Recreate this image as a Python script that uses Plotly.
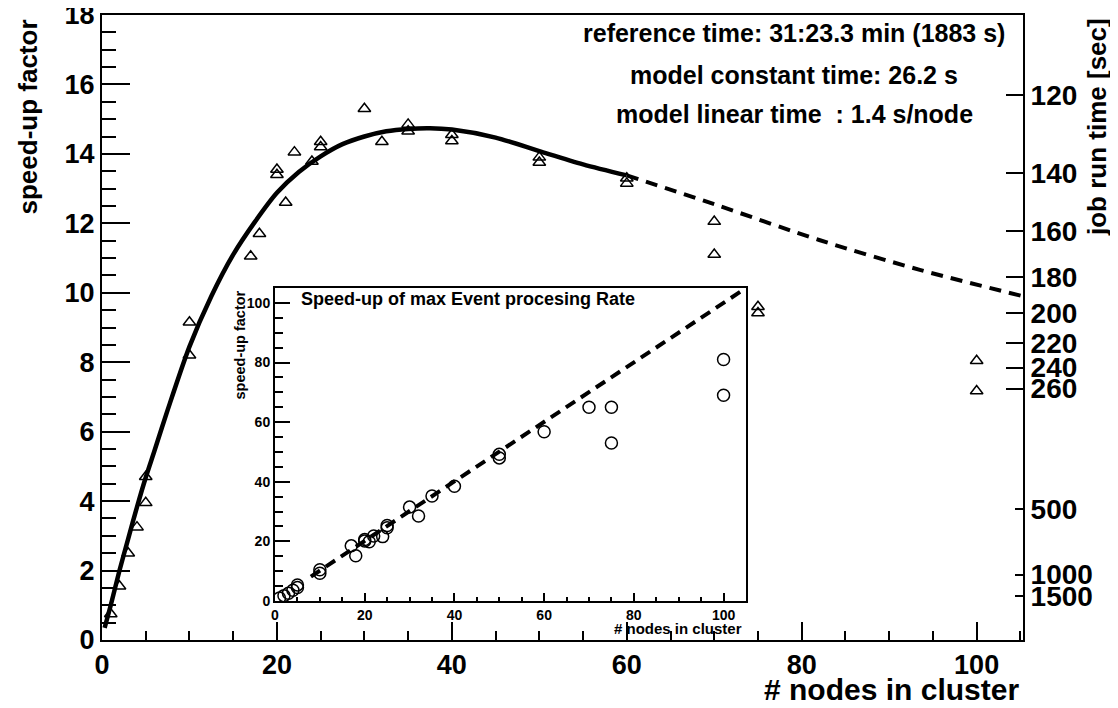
import plotly.graph_objects as go

# the page adds an 8px body margin; the figure is sized to fit inside it
OFF = 8
W, H = 1118 - OFF, 708 - OFF
FONT = "Liberation Sans, Arial, Helvetica, sans-serif"

# ---------------- data ----------------
main_nodes = [1, 2, 3, 4, 5, 5, 10, 10, 17, 18, 20, 20, 21, 22, 24, 25, 25, 30, 32,
              35, 35, 40, 40, 50, 50, 60, 60, 70, 70, 75, 75, 100, 100]
main_speedup = [0.75, 1.55, 2.5, 3.25, 3.95, 4.7, 9.15, 8.2, 11.05, 11.7, 13.4, 13.55,
                12.6, 14.05, 13.78, 14.2, 14.35, 15.3, 14.35, 14.85, 14.65, 14.55, 14.37,
                13.9, 13.75, 13.3, 13.15, 12.05, 11.1, 9.6, 9.42, 8.04, 7.17]

model_nodes = [0.3, 1, 2, 3, 4, 5, 6, 7.5, 10, 12.5, 15, 17.5, 20, 22.5, 25, 27.5,
               30, 32.5, 35, 37.5, 40, 45, 50, 55, 60]
model_speedup = [0.35, 1.0, 2.0, 2.92, 3.83, 4.68, 5.45, 6.62, 8.45, 9.9, 11.1, 12.05,
                 12.88, 13.48, 13.93, 14.28, 14.5, 14.65, 14.72, 14.74, 14.7, 14.47,
                 14.08, 13.7, 13.38]

extrap_nodes = [60, 70, 82, 93.5, 105.3]
extrap_speedup = [13.38, 12.55, 11.52, 10.66, 9.9]

ref_time = 1883
runtime_ticks_long = [120, 140, 160, 180, 200, 220, 240, 260]
runtime_ticks_short = [500, 1000, 1500]

inset_nodes = [1, 2, 3, 4, 5, 5, 10, 10, 17, 18, 20, 20, 21, 22, 24, 25, 25, 30, 32,
               35, 40, 50, 50, 60, 70, 75, 75, 100, 100]
inset_rate = [1.0, 1.8, 2.6, 3.6, 4.5, 5.4, 10.5, 9.3, 18.5, 15.2, 20.1, 20.6, 19.9,
              21.8, 21.6, 24.6, 25.3, 31.5, 28.5, 35.2, 38.5, 48.0, 49.2, 56.8, 65.0,
              65.0, 53.0, 81.0, 69.0]

inset_line_nodes = [8, 104.5]
inset_line_rate = [8.2, 104.5]

annotation_lines = ["reference time: 31:23.3 min (1883 s)",
                    "model constant time: 26.2 s",
                    "model linear time\u00a0 : 1.4 s/node"]


def px(x):
    return (x - OFF) / W


def py(y):
    return 1 - (y - OFF) / H


def bold(size):
    return dict(family=FONT, size=size, color="black", weight="bold")


fig = go.Figure()

fig.add_trace(go.Scatter(x=main_nodes, y=main_speedup, mode="markers",
                         marker=dict(symbol="triangle-up-open", size=11, color="black",
                                     line=dict(width=1.5, color="black")),
                         xaxis="x", yaxis="y", hoverinfo="skip"))
fig.add_trace(go.Scatter(x=model_nodes, y=model_speedup, mode="lines",
                         line=dict(color="black", width=4.5, shape="spline", smoothing=0.8),
                         xaxis="x", yaxis="y", hoverinfo="skip"))
fig.add_trace(go.Scatter(x=extrap_nodes, y=extrap_speedup, mode="lines",
                         line=dict(color="black", width=4, shape="spline", smoothing=0.8,
                                   dash="12px,8px"),
                         xaxis="x", yaxis="y", hoverinfo="skip"))
# invisible helpers so the right-hand axes render
fig.add_trace(go.Scatter(x=[50], y=[5], mode="markers", marker=dict(opacity=0),
                         xaxis="x", yaxis="y2", hoverinfo="skip"))
fig.add_trace(go.Scatter(x=[50], y=[5], mode="markers", marker=dict(opacity=0),
                         xaxis="x", yaxis="y3", hoverinfo="skip"))

# inset
fig.add_trace(go.Scatter(x=inset_line_nodes, y=inset_line_rate, mode="lines",
                         line=dict(color="black", width=4, dash="11px,7px"),
                         xaxis="x2", yaxis="y4", hoverinfo="skip"))
fig.add_trace(go.Scatter(x=inset_nodes, y=inset_rate, mode="markers",
                         marker=dict(symbol="circle-open", size=12, color="black",
                                     line=dict(width=1.5, color="black")),
                         xaxis="x2", yaxis="y4", hoverinfo="skip"))

common = dict(showgrid=False, zeroline=False, showline=True, linecolor="black",
              tickcolor="black", fixedrange=True, automargin=False,
              ticklabeloverflow="allow")

fig.update_layout(
    template="none",
    width=W, height=H, margin=dict(l=0, r=0, t=0, b=0, pad=0, autoexpand=False),
    paper_bgcolor="white", plot_bgcolor="white", showlegend=False,
    xaxis=dict(domain=[px(102), px(1023)], range=[0, 105.3], anchor="y",
               linewidth=2, mirror=True, ticks="inside", ticklen=18, tickwidth=2,
               tick0=0, dtick=20, tickfont=bold(27),
               minor=dict(dtick=5, tick0=0, ticklen=9, tickwidth=2, ticks="inside",
                          tickcolor="black"),
               **common),
    yaxis=dict(domain=[py(640), py(15)], range=[0, 18], anchor="x",
               linewidth=2, mirror=True, ticks="inside", ticklen=28, tickwidth=2,
               tick0=0, dtick=2, tickfont=bold(27),
               minor=dict(dtick=0.5, tick0=0, ticklen=14, tickwidth=2, ticks="inside",
                          tickcolor="black"),
               **common),
    yaxis2=dict(overlaying="y", side="right", anchor="x", range=[0, 18],
                tickmode="array",
                tickvals=[ref_time / t for t in runtime_ticks_long],
                ticktext=[str(t) for t in runtime_ticks_long],
                ticks="inside", ticklen=17, tickwidth=2, linewidth=2,
                tickfont=bold(28), **common),
    yaxis3=dict(overlaying="y", side="right", anchor="x", range=[0, 18],
                tickmode="array",
                tickvals=[ref_time / t for t in runtime_ticks_short],
                ticktext=[str(t) for t in runtime_ticks_short],
                ticks="inside", ticklen=8, tickwidth=2, linewidth=2,
                tickfont=bold(28), **common),
    xaxis2=dict(domain=[px(275), px(746)], range=[0, 105], anchor="y4",
                linewidth=2, mirror=True, ticks="inside", ticklen=8, tickwidth=1.5,
                tick0=0, dtick=20, tickfont=bold(14),
                minor=dict(dtick=5, tick0=0, ticklen=4, tickwidth=1.5, ticks="inside",
                           tickcolor="black"),
                **common),
    yaxis4=dict(domain=[py(601), py(288)], range=[0, 105], anchor="x2",
                linewidth=2, mirror=True, ticks="inside", ticklen=15, tickwidth=1.5,
                tick0=0, dtick=20, tickfont=bold(14),
                minor=dict(dtick=5, tick0=0, ticklen=8, tickwidth=1.5, ticks="inside",
                           tickcolor="black"),
                **common),
)

ann = []
# main axis titles
ann.append(dict(text="# nodes in cluster", x=px(1021), y=py(689), xanchor="right",
                yanchor="middle", font=bold(30)))
ann.append(dict(text="speed-up factor", x=px(28), y=py(18), xanchor="center",
                yanchor="top", textangle=-90, font=bold(26)))
ann.append(dict(text="job run time [sec]", x=px(1097), y=py(16), xanchor="center",
                yanchor="top", textangle=-90, font=bold(26)))
# model text
for txt, yy in zip(annotation_lines, [33, 75, 114]):
    ann.append(dict(text=txt, x=px(794), y=py(yy), xanchor="center", yanchor="middle",
                    font=bold(25)))
# inset texts
ann.append(dict(text="Speed-up of max Event procesing Rate", x=px(299), y=py(299),
                xanchor="left", yanchor="middle", font=bold(18)))
ann.append(dict(text="speed-up factor", x=px(239), y=py(289), xanchor="center",
                yanchor="top", textangle=-90, font=bold(14.5)))
ann.append(dict(text="# nodes in cluster", x=px(744), y=py(628), xanchor="right",
                yanchor="middle", font=bold(15)))

for a in ann:
    a.update(xref="paper", yref="paper", showarrow=False)
fig.update_layout(annotations=ann)

fig.write_html("out.html")
